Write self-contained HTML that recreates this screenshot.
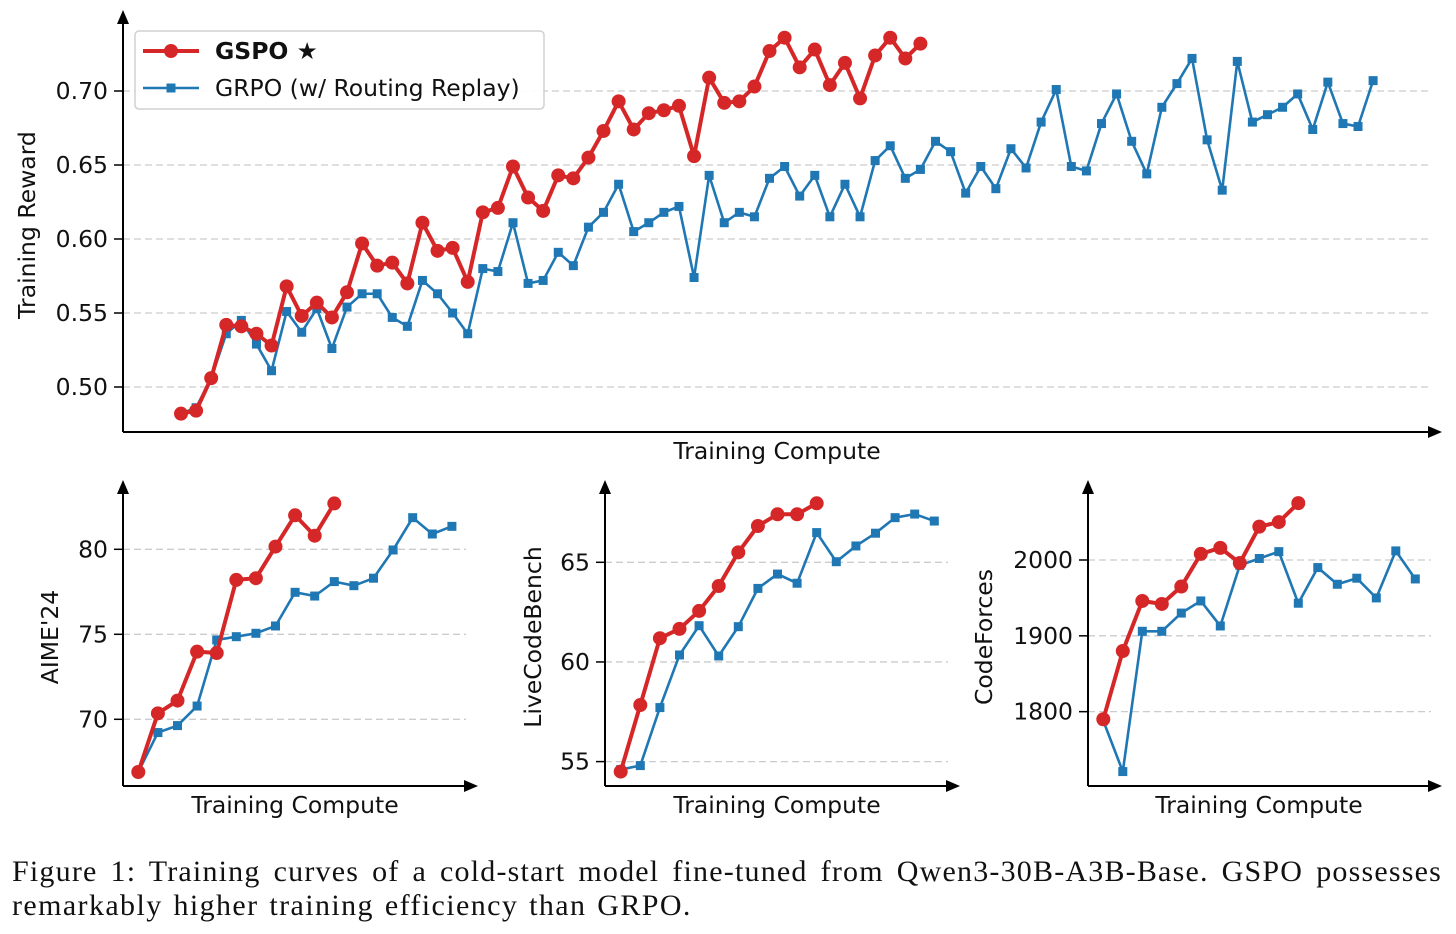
<!DOCTYPE html>
<html><head><meta charset="utf-8"><style>
html,body{margin:0;padding:0;background:#fff;}
body{width:1456px;height:934px;overflow:hidden;position:relative;}
svg{position:absolute;left:0;top:0;}
text{font-family:"DejaVu Sans","Liberation Sans",sans-serif;fill:#111;}
#caption{position:absolute;left:12px;top:855px;width:1430px;font-family:"Liberation Serif",serif;font-size:30px;letter-spacing:1.4px;word-spacing:2px;line-height:34px;color:#111;}
#caption .l1{display:block;text-align:justify;text-align-last:justify;white-space:nowrap;letter-spacing:1.2px;word-spacing:0;}
#caption .l2{display:block;}
</style></head><body>
<svg id="fig" width="1456" height="934"></svg>
<div id="caption"><span class="l1">Figure 1: Training curves of a cold-start model fine-tuned from Qwen3-30B-A3B-Base. GSPO possesses</span><span class="l2">remarkably higher training efficiency than GRPO.</span></div>
<script>
const mainGspo=[0.482,0.484,0.506,0.542,0.541,0.536,0.528,0.568,0.548,0.557,0.547,0.564,0.597,0.582,0.584,0.570,0.611,0.592,0.594,0.571,0.618,0.621,0.649,0.628,0.619,0.643,0.641,0.655,0.673,0.693,0.674,0.685,0.687,0.690,0.656,0.709,0.692,0.693,0.703,0.727,0.736,0.716,0.728,0.704,0.719,0.695,0.724,0.736,0.722,0.732];
const mainGrpo=[0.482,0.486,0.506,0.536,0.545,0.529,0.511,0.551,0.537,0.553,0.526,0.554,0.563,0.563,0.547,0.541,0.572,0.563,0.550,0.536,0.580,0.578,0.611,0.570,0.572,0.591,0.582,0.608,0.618,0.637,0.605,0.611,0.618,0.622,0.574,0.643,0.611,0.618,0.615,0.641,0.649,0.629,0.643,0.615,0.637,0.615,0.653,0.663,0.641,0.647,0.666,0.659,0.631,0.649,0.634,0.661,0.648,0.679,0.701,0.649,0.646,0.678,0.698,0.666,0.644,0.689,0.705,0.722,0.667,0.633,0.720,0.679,0.684,0.689,0.698,0.674,0.706,0.678,0.676,0.707];
const mainTicks=[0.50,0.55,0.60,0.65,0.70];
const aimeGspo=[66.9,70.35,71.1,73.98,73.9,78.2,78.3,80.16,82.0,80.8,82.7];
const aimeGrpo=[66.9,69.22,69.63,70.78,74.67,74.86,75.06,75.49,77.47,77.25,78.1,77.86,78.3,79.96,81.86,80.9,81.35];
const aimeTicks=[70,75,80];
const lcbGspo=[54.5,57.84,61.19,61.66,62.56,63.81,65.5,66.82,67.41,67.41,67.96];
const lcbGrpo=[54.6,54.8,57.71,60.35,61.82,60.3,61.77,63.69,64.41,63.95,66.49,65.03,65.82,66.46,67.24,67.42,67.07];
const lcbTicks=[55,60,65];
const cfGspo=[1790,1880,1946,1942,1965,2008,2016,1996,2044,2050,2075];
const cfGrpo=[1788,1721,1906,1906,1930,1946,1913,1993,2002,2011,1943,1990,1968,1976,1950,2012,1975];
const cfTicks=[1800,1900,2000];

const NS='http://www.w3.org/2000/svg';
const svg=document.getElementById('fig');
function el(tag,attrs,parent){const e=document.createElementNS(NS,tag);for(const k in attrs)e.setAttribute(k,attrs[k]);(parent||svg).appendChild(e);return e;}
const RED='#d62728',BLUE='#1f77b4';

function panel(cfg){
  const g=el('g',{});
  
  
  const y=v=>cfg.y0+(cfg.v0-v)*cfg.ys;
  const x=i=>cfg.x0+i*cfg.dx;
  cfg.ticks.forEach(t=>{
    const gl=el('line',{x1:cfg.ax,x2:cfg.gx2,y1:y(t),y2:y(t),stroke:'#cccccc','stroke-width':1.3,'stroke-dasharray':'7,4'},g);
    
    
    el('line',{x1:cfg.ax-9,x2:cfg.ax,y1:y(t),y2:y(t),stroke:'#000','stroke-width':1.5},g);
    const tx=el('text',{x:cfg.ax-15,y:y(t)+8,'font-size':cfg.fs,'text-anchor':'end'},g);
    tx.textContent=cfg.fmt(t);
    
    
  });
  const ya=el('line',{x1:cfg.ax,x2:cfg.ax,y1:cfg.ay,y2:cfg.top+12,stroke:'#000','stroke-width':2},g);
  
  
  el('polygon',{points:`${cfg.ax-6},${cfg.top+14} ${cfg.ax+6},${cfg.top+14} ${cfg.ax},${cfg.top}`,fill:'#000'},g);
  const xa=el('line',{x1:cfg.ax,x2:cfg.right-12,y1:cfg.ay,y2:cfg.ay,stroke:'#000','stroke-width':2},g);
  
  
  el('polygon',{points:`${cfg.right-14},${cfg.ay-6} ${cfg.right-14},${cfg.ay+6} ${cfg.right},${cfg.ay}`,fill:'#000'},g);
  const xl=el('text',{x:cfg.xlx,y:cfg.xly,'font-size':cfg.fs,'text-anchor':'middle'},g);
  xl.textContent='Training Compute';
  
  
  const yl=el('text',{x:0,y:0,'font-size':cfg.fs,'text-anchor':'middle',transform:`translate(${cfg.ylx},${cfg.yly}) rotate(-90)`},g);
  yl.textContent=cfg.ylabel;
  
  
  const bl=el('polyline',{points:cfg.grpo.map((v,i)=>x(i)+','+y(v)).join(' '),fill:'none',stroke:BLUE,'stroke-width':2.6},g);
  
  
  cfg.grpo.forEach((v,i)=>{const s=el('rect',{x:x(i)-4.5,y:y(v)-4.5,width:9,height:9,fill:BLUE},g);
    
    });
  const rl=el('polyline',{points:cfg.gspo.map((v,i)=>x(i)+','+y(v)).join(' '),fill:'none',stroke:RED,'stroke-width':4},g);
  
  
  cfg.gspo.forEach((v,i)=>{const c=el('circle',{cx:x(i),cy:y(v),r:cfg.r,fill:RED},g);
    
    });
}

panel({name:'training-reward-chart',gspo:mainGspo,grpo:mainGrpo,ticks:mainTicks,fmt:t=>t.toFixed(2),
  v0:0.70,y0:91,ys:1480,x0:181,dx:15.09,ax:123,ay:432,top:10,right:1442,gx2:1430,fs:23.5,
  xlx:777,xly:459,ylabel:'Training Reward',ylx:35,yly:225,r:7});
panel({name:'aime24-chart',gspo:aimeGspo,grpo:aimeGrpo,ticks:aimeTicks,fmt:t=>String(t),
  v0:80,y0:549.3,ys:17,x0:138.3,dx:19.6,ax:123,ay:786,top:480,right:478,gx2:466,fs:23.5,
  xlx:295,xly:813,ylabel:"AIME'24",ylx:58,yly:637,r:7});
panel({name:'livecodebench-chart',gspo:lcbGspo,grpo:lcbGrpo,ticks:lcbTicks,fmt:t=>String(t),
  v0:65,y0:562.3,ys:19.93,x0:620.7,dx:19.6,ax:605,ay:786,top:480,right:960,gx2:948,fs:23.5,
  xlx:777,xly:813,ylabel:'LiveCodeBench',ylx:541,yly:637,r:7});
panel({name:'codeforces-chart',gspo:cfGspo,grpo:cfGrpo,ticks:cfTicks,fmt:t=>String(t),
  v0:2000,y0:560,ys:0.7583,x0:1103.3,dx:19.5,ax:1088,ay:786,top:480,right:1442,gx2:1431,fs:23.5,
  xlx:1259,xly:813,ylabel:'CodeForces',ylx:992,yly:637,r:7});

const lg=el('g',{});


el('rect',{x:135,y:31,width:409,height:78,rx:4,fill:'#fff','fill-opacity':0.9,stroke:'#d0d0d0','stroke-width':1.5},lg);
el('line',{x1:143,x2:199,y1:51,y2:51,stroke:RED,'stroke-width':4},lg);
el('circle',{cx:171,cy:51,r:7,fill:RED},lg);
const t1=el('text',{x:215,y:59,'font-size':23.5,'font-weight':'bold'},lg);
t1.textContent='GSPO ★';


el('line',{x1:143,x2:199,y1:88,y2:88,stroke:BLUE,'stroke-width':2.6},lg);
el('rect',{x:166.5,y:83.5,width:9,height:9,fill:BLUE},lg);
const t2=el('text',{x:215,y:96,'font-size':23.5},lg);
t2.textContent='GRPO (w/ Routing Replay)';


</script>
</body></html>
